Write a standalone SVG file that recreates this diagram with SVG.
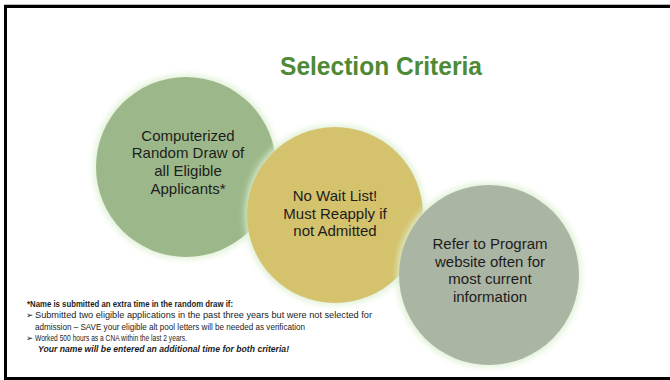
<svg xmlns="http://www.w3.org/2000/svg" width="670" height="380" viewBox="0 0 670 380">
<defs>
<filter id="glow" x="-20%" y="-20%" width="140%" height="140%">
<feMorphology in="SourceAlpha" operator="dilate" radius="2" result="d"/>
<feGaussianBlur in="d" stdDeviation="3" result="b"/>
<feFlood flood-color="#dcefd0" flood-opacity="0.9"/>
<feComposite in2="b" operator="in" result="g"/>
<feMerge><feMergeNode in="g"/><feMergeNode in="SourceGraphic"/></feMerge>
</filter>
<style>
.ct{font-family:"Liberation Sans",Arial,sans-serif;font-size:15px;fill:#1c1c1c;text-anchor:middle}
.fn{font-family:"Liberation Sans",Arial,sans-serif;font-size:9.5px;fill:#1c1c1c}
.bul{font-family:"DejaVu Sans",sans-serif;font-size:8.5px;fill:#1c1c1c}
</style>
</defs>
<rect x="0" y="0" width="670" height="380" fill="#ffffff"/>
<rect x="5.5" y="6.5" width="700" height="372" fill="none" stroke="#000" stroke-width="3"/>
<line x1="4" y1="4.5" x2="670" y2="4.5" stroke="#bbbbbb" stroke-width="1"/>
<g id="title">
<text x="381" y="75" text-anchor="middle" font-family="'Liberation Sans',Arial,sans-serif" font-weight="bold" font-size="25" fill="#4e8a36" textLength="202" lengthAdjust="spacingAndGlyphs">Selection Criteria</text>
</g>
<g id="node-random-draw">
<circle cx="186" cy="167" r="90" fill="#9cb88a" filter="url(#glow)"/>
<text class="ct" x="188" y="141">Computerized</text>
<text class="ct" x="188" y="158">Random Draw of</text>
<text class="ct" x="188" y="176">all Eligible</text>
<text class="ct" x="188" y="194">Applicants*</text>
</g>
<g id="node-no-wait-list">
<circle cx="335" cy="215" r="88" fill="#d4c26c" filter="url(#glow)"/>
<text class="ct" x="335" y="201">No Wait List!</text>
<text class="ct" x="335" y="218.5">Must Reapply if</text>
<text class="ct" x="335" y="236">not Admitted</text>
</g>
<g id="node-refer-website">
<circle cx="489" cy="275" r="90" fill="#abb5a3" filter="url(#glow)"/>
<text class="ct" x="490" y="249">Refer to Program</text>
<text class="ct" x="490" y="266.5">website often for</text>
<text class="ct" x="490" y="284">most current</text>
<text class="ct" x="490" y="301.5">information</text>
</g>
<g id="footnote">
<text class="fn" x="27" y="307" font-weight="bold" font-size="10.5" textLength="206" lengthAdjust="spacingAndGlyphs">*Name is submitted an extra time in the random draw if:</text>
<text class="bul" x="26" y="318">➢</text>
<text class="fn" x="35" y="318" textLength="337" lengthAdjust="spacingAndGlyphs">Submitted two eligible applications in the past three years but were not selected for</text>
<text class="fn" x="35" y="329.5" textLength="270" lengthAdjust="spacingAndGlyphs">admission – SAVE your eligible alt pool letters will be needed as verification</text>
<text class="bul" x="26" y="341">➢</text>
<text class="fn" x="35" y="341" textLength="152" lengthAdjust="spacingAndGlyphs">Worked 500 hours as a CNA within the last 2 years.</text>
<text class="fn" x="38" y="352" font-weight="bold" font-style="italic" textLength="251" lengthAdjust="spacingAndGlyphs">Your name will be entered an additional time for both criteria!</text>
</g>
</svg>
